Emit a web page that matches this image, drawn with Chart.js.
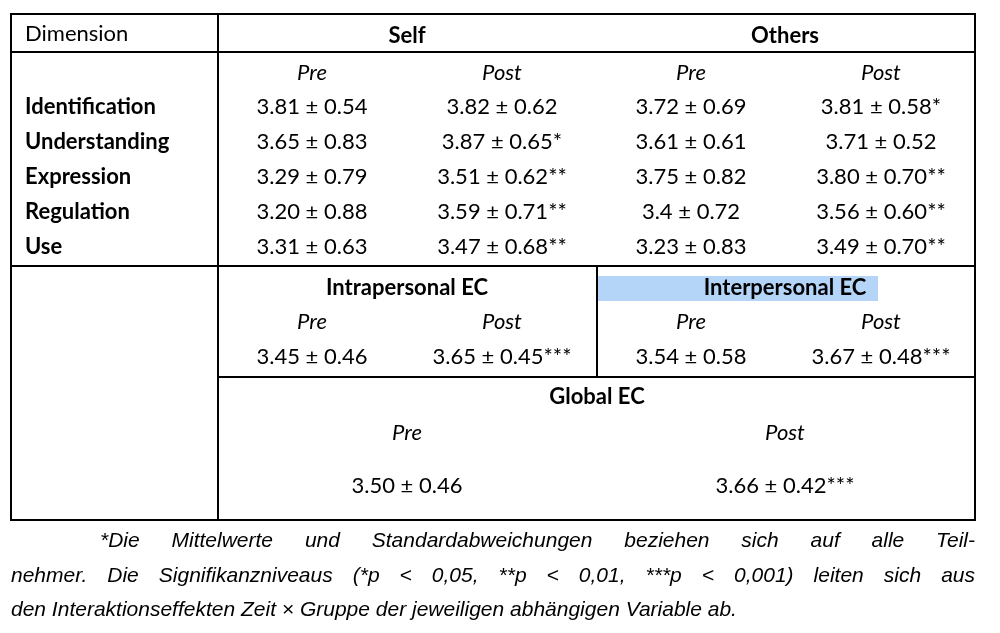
<!DOCTYPE html>
<html><head><meta charset="utf-8">
<script src="https://cdn.jsdelivr.net/npm/chart.js@4.4.0/dist/chart.umd.min.js"></script>
<style>html,body{margin:0;padding:0;background:#fff}#wrap{width:1000px;height:633px}</style>
</head><body><div id="wrap"><canvas id="c"></canvas></div>
<script>
const groups = ["Self", "Others"];
const phases = ["Pre", "Post", "Pre", "Post"];
const dimensions = ["Identification", "Understanding", "Expression", "Regulation", "Use"];
const dimValues = [
  ["3.81 ± 0.54", "3.82 ± 0.62", "3.72 ± 0.69", "3.81 ± 0.58*"],
  ["3.65 ± 0.83", "3.87 ± 0.65*", "3.61 ± 0.61", "3.71 ± 0.52"],
  ["3.29 ± 0.79", "3.51 ± 0.62**", "3.75 ± 0.82", "3.80 ± 0.70**"],
  ["3.20 ± 0.88", "3.59 ± 0.71**", "3.4 ± 0.72", "3.56 ± 0.60**"],
  ["3.31 ± 0.63", "3.47 ± 0.68**", "3.23 ± 0.83", "3.49 ± 0.70**"]
];
const ecGroups = ["Intrapersonal EC", "Interpersonal EC"];
const ecValues = ["3.45 ± 0.46", "3.65 ± 0.45***", "3.54 ± 0.58", "3.67 ± 0.48***"];
const globalLabel = "Global EC";
const globalPhases = ["Pre", "Post"];
const globalValues = ["3.50 ± 0.46", "3.66 ± 0.42***"];
const footnote = [
  "*Die Mittelwerte und Standardabweichungen beziehen sich auf alle Teil-",
  "nehmer. Die Signifikanzniveaus (*p < 0,05, **p < 0,01, ***p < 0,001) leiten sich aus",
  "den Interaktionseffekten Zeit × Gruppe der jeweiligen abhängigen Variable ab."
];

const F = "Lato, 'Open Sans', sans-serif";
const FN = 'italic 21px "Liberation Sans", Arimo, Arial, sans-serif';
const tablePlugin = {
  id: 'table',
  afterDraw(chart) {
    const ctx = chart.ctx, sx = chart.scales.x, sy = chart.scales.y;
    const X = v => sx.getPixelForValue(v), Y = v => sy.getPixelForValue(v);
    ctx.save();
    ctx.fillStyle = '#b4d5f7';
    ctx.fillRect(X(598), Y(276), X(878) - X(598), Y(301) - Y(276));
    ctx.strokeStyle = '#000'; ctx.lineWidth = 2;
    const line = (a, b, c, d) => { ctx.beginPath(); ctx.moveTo(X(a), Y(b)); ctx.lineTo(X(c), Y(d)); ctx.stroke(); };
    ctx.strokeRect(X(11), Y(14), X(975) - X(11), Y(520) - Y(14));
    line(11, 52, 975, 52);
    line(11, 266, 975, 266);
    line(218, 377, 975, 377);
    line(218, 14, 218, 520);
    line(597, 266, 597, 377);
    const txt = (s, x, y, font, align) => {
      ctx.font = font; ctx.textAlign = align || 'center'; ctx.textBaseline = 'middle';
      ctx.fillStyle = '#000'; ctx.fillText(s, X(x), Y(y));
    };
    const N = '22px ' + F, B = 'bold 22px ' + F, I = 'italic 22px ' + F;
    txt("Dimension", 25, 34, N, 'left');
    const gc = [407, 785], cc = [312, 502, 691, 881];
    groups.forEach((g, i) => txt(g, gc[i], 36, B));
    phases.forEach((p, i) => txt(p, cc[i], 73, I));
    dimensions.forEach((d, r) => {
      const y = 107 + r * 35;
      txt(d, 25, y, B, 'left');
      dimValues[r].forEach((v, i) => txt(v, cc[i], y, N));
    });
    ecGroups.forEach((g, i) => txt(g, gc[i], 288, B));
    phases.forEach((p, i) => txt(p, cc[i], 322, I));
    ecValues.forEach((v, i) => txt(v, cc[i], 357, N));
    txt(globalLabel, 597, 397, B);
    globalPhases.forEach((p, i) => txt(p, gc[i], 433, I));
    globalValues.forEach((v, i) => txt(v, gc[i], 486, N));
    ctx.font = FN;
    ctx.textAlign = 'left'; ctx.textBaseline = 'middle'; ctx.fillStyle = '#000';
    const starts = [100, 11, 11], ys = [541, 576, 610];
    footnote.forEach((l, i) => {
      const words = l.split(' ');
      if (i < 2) {
        const wsum = words.reduce((s, w) => s + ctx.measureText(w).width, 0);
        const gap = (X(975) - X(starts[i]) - wsum) / (words.length - 1);
        let x = X(starts[i]);
        words.forEach(w => { ctx.fillText(w, x, Y(ys[i])); x += ctx.measureText(w).width + gap; });
      } else ctx.fillText(l, X(starts[i]), Y(ys[i]));
    });
    ctx.restore();
  }
};
function make() {
  new Chart(document.getElementById('c'), {
    type: 'scatter',
    data: { datasets: [{ data: [] }] },
    options: {
      responsive: true, maintainAspectRatio: false, animation: false,
      layout: { padding: 0 },
      plugins: { legend: { display: false }, tooltip: { enabled: false } },
      scales: {
        x: { type: 'linear', min: 0, max: 1000, display: false },
        y: { type: 'linear', min: 0, max: 633, reverse: true, display: false }
      }
    },
    plugins: [tablePlugin]
  });
}
Promise.all([FN, '22px Lato', 'bold 22px Lato', 'italic 22px Lato'].map(f => document.fonts.load(f).catch(() => {})))
  .then(make, make);
</script></body></html>
